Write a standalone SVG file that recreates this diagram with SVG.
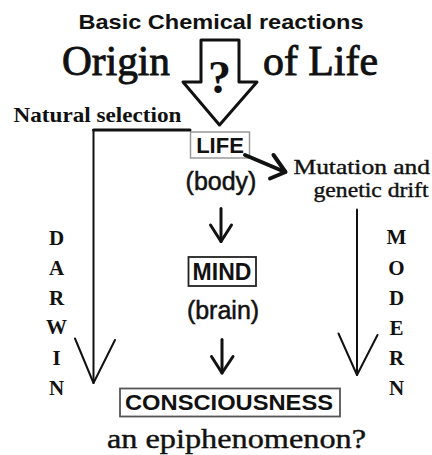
<svg xmlns="http://www.w3.org/2000/svg" width="432" height="455" viewBox="0 0 432 455">
  <style>
    .sans { font-family: "Liberation Sans", Arial, sans-serif; fill: #111; }
    .serif { font-family: "Liberation Serif", "Times New Roman", serif; fill: #111; }
    .b { font-weight: bold; }
    .line { fill: none; stroke: #111; stroke-linecap: round; stroke-linejoin: round; }
    .thin { stroke-width: 2; }
    .thick { stroke-width: 3; }
    .heavy { stroke-width: 4; }
    .reg { stroke: #111; stroke-width: 0.5; }
    .semi { stroke: #111; stroke-width: 0.9; }
    .soft { stroke: #111; stroke-width: 0.4; }
    .mid { text-anchor: middle; }
  </style>
  <rect width="432" height="455" fill="#fff"/>

  <g id="basic-chemical-reactions">
    <text class="sans b" x="78.5" y="28.5" font-size="21" textLength="285" lengthAdjust="spacingAndGlyphs">Basic Chemical reactions</text>
  </g>

  <g id="origin-of-life">
    <text class="serif semi" x="62" y="75" font-size="42" textLength="108" lengthAdjust="spacingAndGlyphs">Origin</text>
    <text class="serif semi" x="263" y="75" font-size="42" textLength="115" lengthAdjust="spacingAndGlyphs">of Life</text>
    <polygon class="line thick" fill="#fff" points="201,40 239,40 239,82 257,82 219.5,125 183,82 201,82"/>
    <text class="serif b mid" x="219.5" y="93" font-size="46">?</text>
  </g>

  <g id="natural-selection">
    <text class="serif b" x="13.5" y="121.5" font-size="22" textLength="168" lengthAdjust="spacingAndGlyphs">Natural selection</text>
  </g>

  <g id="life">
    <rect x="190.5" y="132" width="59" height="26" fill="#fff" stroke="#999" stroke-width="1.5"/>
    <text class="sans b mid" x="220" y="153" font-size="22">LIFE</text>
  </g>
  <g id="body">
    <text class="sans mid reg" x="221" y="190" font-size="25">(body)</text>
  </g>

  <g id="mutation">
    <text class="serif soft" x="293.5" y="173.5" font-size="22" textLength="136.5" lengthAdjust="spacingAndGlyphs">Mutation and</text>
    <text class="serif soft" x="313.5" y="197" font-size="22" textLength="115" lengthAdjust="spacingAndGlyphs">genetic drift</text>
  </g>

  <g id="mind">
    <rect x="188.5" y="257" width="67.5" height="29" fill="#fff" stroke="#222" stroke-width="1.8"/>
    <text class="sans b mid" x="222" y="280" font-size="23">MIND</text>
  </g>
  <g id="brain">
    <text class="sans mid reg" x="223" y="318.5" font-size="25">(brain)</text>
  </g>

  <g id="consciousness">
    <rect x="120" y="388.5" width="220" height="28" fill="#fff" stroke="#555" stroke-width="1.8"/>
    <text class="sans b" x="125" y="410" font-size="22" textLength="208" lengthAdjust="spacingAndGlyphs">CONSCIOUSNESS</text>
  </g>
  <g id="epiphenomenon">
    <text class="serif soft" x="107" y="448" font-size="27" textLength="259" lengthAdjust="spacingAndGlyphs">an epiphenomenon?</text>
  </g>

  <g id="darwin" class="serif b mid" font-size="21">
    <text x="56.5" y="245">D</text>
    <text x="56.5" y="275">A</text>
    <text x="56.5" y="305">R</text>
    <text x="56.5" y="334">W</text>
    <text x="56.5" y="365">I</text>
    <text x="56.5" y="395">N</text>
  </g>
  <g id="modern" class="serif b mid" font-size="21">
    <text x="396.5" y="244">M</text>
    <text x="396.5" y="275">O</text>
    <text x="396.5" y="305">D</text>
    <text x="396.5" y="335">E</text>
    <text x="396.5" y="365">R</text>
    <text x="396.5" y="395">N</text>
  </g>

  <g id="connectors">
    <!-- Natural selection / Darwin path -->
    <path class="line thick" d="M190,130 H93.5"/>
    <path class="line thin" d="M93.5,130 V383"/>
    <path class="line thin" d="M75,338.5 L93.5,383 L115,340"/>
    <!-- Modern path -->
    <path class="line thin" d="M357,209.5 V375"/>
    <path class="line thin" d="M338.5,333.5 L357,375 L377.5,335"/>
    <!-- LIFE to Mutation -->
    <path class="line heavy" d="M245,155 L285,172"/>
    <path class="line heavy" d="M273.5,155 L285.5,172 L270,178.5"/>
    <!-- LIFE to MIND -->
    <path class="line thick" d="M221,208.5 V241.5"/>
    <path class="line thick" d="M210.5,225 L221,241.5 L231.5,225"/>
    <!-- MIND to CONSCIOUSNESS -->
    <path class="line thick" d="M222,339.5 V373"/>
    <path class="line thick" d="M211.5,356.5 L222,373 L233,356.5"/>
  </g>
</svg>
